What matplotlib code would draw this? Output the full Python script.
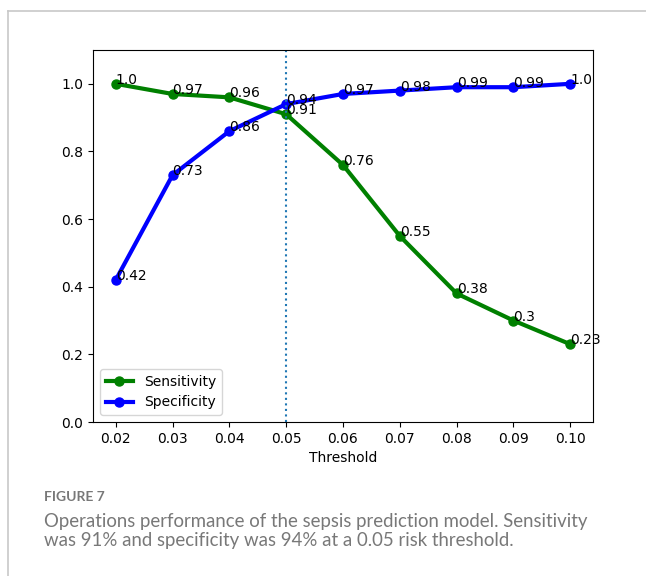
import numpy as np
import matplotlib.pyplot as plt
from matplotlib.lines import Line2D

# data
thresholds = [0.02, 0.03, 0.04, 0.05, 0.06, 0.07, 0.08, 0.09, 0.10]
sensitivity = [1.0, 0.97, 0.96, 0.91, 0.76, 0.55, 0.38, 0.3, 0.23]
specificity = [0.42, 0.73, 0.86, 0.94, 0.97, 0.98, 0.99, 0.99, 1.0]
tick_labels = ['0.02', '0.03', '0.04', '0.05', '0.06', '0.07', '0.08', '0.09', '0.10']
cutoff = 0.05

W, H = 646, 576
fig = plt.figure(figsize=(W/100, H/100), dpi=100)
ax = fig.add_axes([93/W, 1 - 422/H, (593 - 93)/W, (422 - 50)/H])

ax.plot(thresholds, sensitivity, color='green', marker='o', linewidth=3,
        markersize=6.5, label='Sensitivity')
ax.plot(thresholds, specificity, color='blue', marker='o', linewidth=3,
        markersize=6.5, label='Specificity')
ax.axvline(cutoff, linestyle=':', color='C0')

# value labels at each point
for x, s in zip(thresholds, sensitivity):
    ax.text(x, s, str(s), fontsize=10)
for x, s in zip(thresholds, specificity):
    ax.text(x, s, str(s), fontsize=10)

ax.set_ylim(0, 1.1)
ax.set_xticks(thresholds)
ax.set_xticklabels(tick_labels)
ax.set_yticks([0.0, 0.2, 0.4, 0.6, 0.8, 1.0])
ax.tick_params(labelsize=10)
ax.set_xlabel('Threshold', fontsize=10)
ax.legend(loc='lower left', fontsize=10)

# frame of the figure panel
grey = '#c8c8c8'
fig.add_artist(Line2D([8/W, 1], [1 - 11/H, 1 - 11/H], color=grey, lw=1.2))
fig.add_artist(Line2D([8/W, 8/W], [0, 1 - 11/H], color=grey, lw=1.2))

# caption
cap_col = '#787878'
fig.text(44/W, 1 - 501/H, 'FIGURE 7', fontsize=10, color=cap_col,
         family='Lato', weight='bold', va='baseline')
fig.text(44/W, 1 - 527/H,
         'Operations performance of the sepsis prediction model. Sensitivity',
         fontsize=13.4, color=cap_col, family='Lato', va='baseline')
fig.text(44/W, 1 - 546/H,
         'was 91% and specificity was 94% at a 0.05 risk threshold.',
         fontsize=13.4, color=cap_col, family='Lato', va='baseline')

fig.savefig('out.png', dpi=100)
